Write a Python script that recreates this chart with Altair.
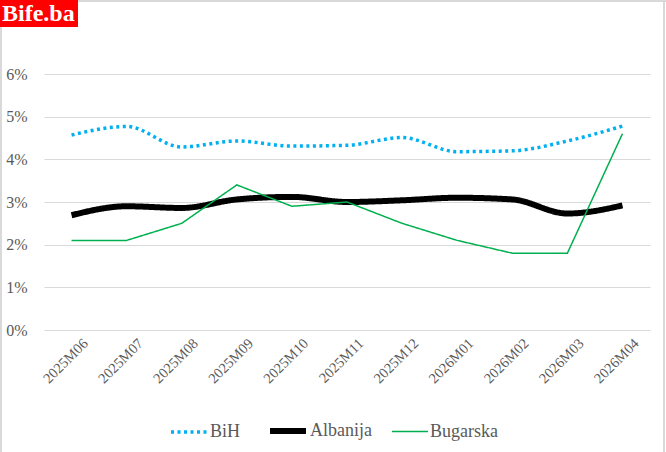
import altair as alt
import pandas as pd

months = ["2025M06", "2025M07", "2025M08", "2025M09", "2025M10", "2025M11",
          "2025M12", "2026M01", "2026M02", "2026M03", "2026M04"]
bih = [4.57, 4.77, 4.29, 4.43, 4.31, 4.33, 4.51, 4.18, 4.20, 4.43, 4.78]
albanija = [2.69, 2.90, 2.86, 3.06, 3.12, 3.00, 3.04, 3.10, 3.06, 2.73, 2.92]
bugarska = [2.1, 2.1, 2.5, 3.4, 2.9, 3.0, 2.5, 2.1, 1.8, 1.8, 4.6]
series_names = ["BiH", "Albanija", "Bugarska"]
series_colors = ["#00B0F0", "#000000", "#00B050"]

rows = []
for name, vals in zip(series_names, [bih, albanija, bugarska]):
    for m, v in zip(months, vals):
        rows.append({"month": m, "series": name, "value": v / 100.0})
df = pd.DataFrame(rows)

FONT = "Liberation Serif, Times New Roman, serif"
GREY = "#595959"

W, H = 606, 256
PAD_L, PAD_T = 44, 74

leg = alt.Legend(
    title=None, orient="none", legendX=125, legendY=336, direction="horizontal",
    symbolType="stroke", symbolSize=1296, labelFont=FONT, labelFontSize=18,
    labelColor=GREY, labelOffset=1, columnPadding=17,
)

x_enc = alt.X("month:N", sort=months, title=None,
              scale=alt.Scale(type="point", padding=0.5),
              axis=alt.Axis(labelAngle=-45, labelAlign="right", labelBaseline="top",
                            labelFont=FONT, labelFontSize=14.5, labelColor=GREY,
                            ticks=False, domain=False, grid=False, labelPadding=6,
                            labelOffset=9))
y_enc = alt.Y("value:Q", title=None,
              scale=alt.Scale(domain=[0, 0.06], nice=False),
              axis=alt.Axis(format=".0%", values=[0, 0.01, 0.02, 0.03, 0.04, 0.05, 0.06],
                            labelFont=FONT, labelFontSize=16, labelColor=GREY,
                            ticks=False, domain=False, gridColor="#d9d9d9",
                            gridWidth=1.2, labelPadding=17))
enc = dict(
    x=x_enc, y=y_enc,
    color=alt.Color("series:N", scale=alt.Scale(domain=series_names, range=series_colors),
                    sort=series_names, legend=leg),
    strokeDash=alt.StrokeDash("series:N", scale=alt.Scale(type="ordinal", domain=series_names,
                              range=[[3, 3.5], [1, 0], [1, 0]]), sort=series_names, legend=leg),
    strokeWidth=alt.StrokeWidth("series:N", scale=alt.Scale(type="ordinal", domain=series_names,
                                range=[3.5, 6, 1.5]), sort=series_names, legend=leg),
)

smooth = alt.Chart(df).transform_filter(
    alt.FieldOneOfPredicate(field="series", oneOf=["BiH", "Albanija"])
).mark_line(interpolate="monotone", strokeJoin="round").encode(**enc)

straight = alt.Chart(df).transform_filter(
    alt.FieldEqualPredicate(field="series", equal="Bugarska")
).mark_line(strokeJoin="miter").encode(**enc)

deco = pd.DataFrame({"label": ["Bife.ba"]})
border = alt.Chart(deco).mark_rule(color="#d9d9d9", strokeWidth=2)
top_b = border.encode(x=alt.value(-PAD_L), x2=alt.value(666 - PAD_L), y=alt.value(-PAD_T + 1))
left_b = border.encode(x=alt.value(-PAD_L + 1), y=alt.value(-PAD_T), y2=alt.value(452 - PAD_T))
right_b = border.encode(x=alt.value(664 - PAD_L), y=alt.value(-PAD_T), y2=alt.value(452 - PAD_T))

logo_box = alt.Chart(deco).mark_rect(color="#ff0000").encode(
    x=alt.value(-PAD_L), x2=alt.value(78 - PAD_L),
    y=alt.value(-PAD_T), y2=alt.value(27 - PAD_T))
logo_txt = alt.Chart(deco).mark_text(
    align="left", baseline="middle", font=FONT, fontSize=24, fontWeight="bold", color="white"
).encode(x=alt.value(2 - PAD_L), y=alt.value(14 - PAD_T), text="label:N")

chart = alt.layer(top_b, left_b, right_b, smooth, straight, logo_box, logo_txt).properties(
    width=W, height=H,
    autosize=alt.AutoSizeParams(type="none"),
    padding={"left": PAD_L, "top": PAD_T, "right": 666 - PAD_L - W, "bottom": 452 - PAD_T - H},
    background="white",
).configure_view(stroke=None)

chart.save("out.html", embed_options={"renderer": "svg", "actions": False})
